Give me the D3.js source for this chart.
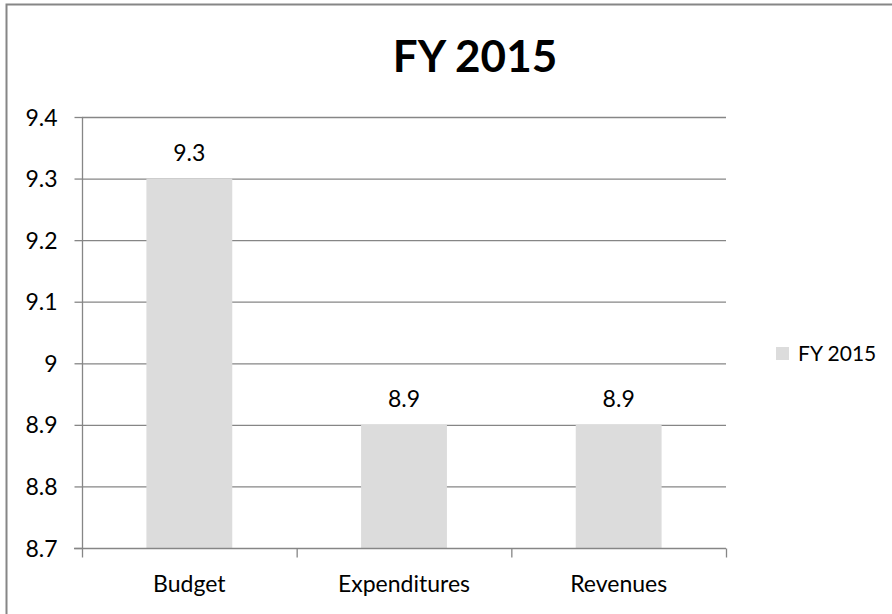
<!DOCTYPE html>
<html><head><meta charset="utf-8">
<script src="https://d3js.org/d3.v7.min.js"></script>
<style>body{margin:0;background:#fff;} text{font-family:Lato,"Open Sans",sans-serif;}</style>
</head><body>
<script>
const categories = ["Budget", "Expenditures", "Revenues"];
const values = [9.3, 8.9, 8.9];
const seriesName = "FY 2015";
const yTicks = [8.7, 8.8, 8.9, 9.0, 9.1, 9.2, 9.3, 9.4];
const yTickLabels = ["8.7", "8.8", "8.9", "9", "9.1", "9.2", "9.3", "9.4"];

(function () {
const W = 892, H = 614;
const FS = 23;
const svg = d3.select("body").append("svg").attr("width", W).attr("height", H);
svg.append("rect").attr("x", 6.5).attr("y", 4.5).attr("width", 1000).attr("height", 1000)
  .attr("fill", "#fff").attr("stroke", "#868686").attr("stroke-width", 2);

const pL = 82, pR = 726, pT = 117, pB = 548;
const x = d3.scaleBand().domain(categories).range([pL, pR]).paddingInner(0.6).paddingOuter(0.3);
const xb = d3.scaleBand().domain(categories).range([pL, pR]);
const y = d3.scaleLinear().domain([8.7, 9.4]).range([pB, pT]);
const grey = "#868686";

// gridlines
svg.append("g").selectAll("line").data(yTicks.slice(1)).join("line")
  .attr("x1", pL).attr("x2", pR).attr("y1", d => y(d) + 0.5).attr("y2", d => y(d) + 0.5)
  .attr("stroke", grey).attr("stroke-width", 1.3);

// bars
svg.append("g").selectAll("rect").data(values).join("rect")
  .attr("x", (d, i) => x(categories[i])).attr("width", x.bandwidth())
  .attr("y", d => y(d)).attr("height", d => pB - y(d))
  .attr("fill", "#dcdcdc");

// y axis
const yAxis = d3.axisLeft(y).tickValues(yTicks).tickFormat((d, i) => yTickLabels[i]).tickSize(8).tickPadding(17);
const gy = svg.append("g").attr("transform", `translate(${pL + 0.5},0)`).call(yAxis);
gy.select(".domain").attr("stroke", grey).attr("stroke-width", 1.3).attr("d", `M0,${pT}V${pB}`);
gy.selectAll(".tick line").attr("stroke", grey).attr("stroke-width", 1.3);
gy.selectAll(".tick text").attr("font-size", FS).attr("fill", "#000").attr("font-family", "Lato").attr("dy", "0.35em");

// x axis
const gx = svg.append("g").attr("transform", `translate(0,${pB + 0.5})`);
gx.append("line").attr("x1", pL - 8).attr("x2", pR).attr("stroke", grey).attr("stroke-width", 1.3);
const xEdges = [pL, ...categories.map(c => xb(c) + xb.bandwidth())];
gx.selectAll(".tk").data(xEdges).join("line").attr("class", "tk")
  .attr("x1", d => d + 0.5).attr("x2", d => d + 0.5).attr("y1", 0).attr("y2", 9)
  .attr("stroke", grey).attr("stroke-width", 1.3);
gx.selectAll("text").data(categories).join("text")
  .attr("x", d => xb(d) + xb.bandwidth() / 2).attr("y", 43)
  .attr("text-anchor", "middle").attr("font-size", FS).attr("fill", "#000").text(d => d);

// data labels
svg.append("g").selectAll("text").data(values).join("text")
  .attr("x", (d, i) => x(categories[i]) + x.bandwidth() / 2).attr("y", d => y(d) - 18)
  .attr("text-anchor", "middle").attr("font-size", FS).attr("fill", "#000").text(d => d.toFixed(1));

// title
svg.append("text").attr("x", 475).attr("y", 72).attr("text-anchor", "middle")
  .attr("font-size", 44).attr("font-weight", "bold").attr("fill", "#000").text(seriesName);

// legend
const lg = svg.append("g").attr("transform", "translate(776,347)");
lg.append("rect").attr("width", 13).attr("height", 13).attr("fill", "#dcdcdc");
lg.append("text").attr("x", 22).attr("y", 6.5).attr("dy", "0.35em").attr("font-size", 21).attr("fill", "#000").text(seriesName);
})();
</script>
</body></html>
